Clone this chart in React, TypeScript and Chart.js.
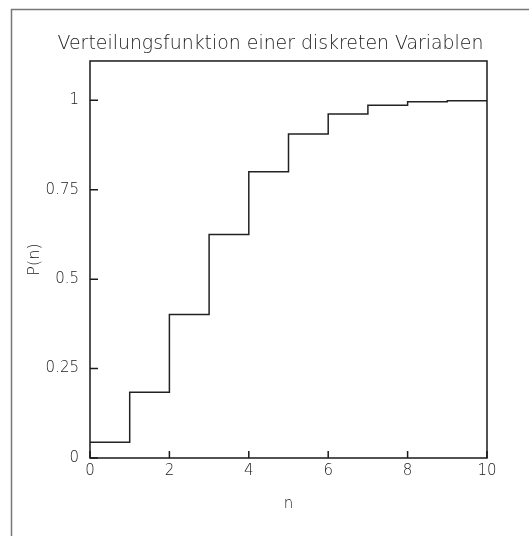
import React, { useEffect, useRef } from "react";
import { Chart, registerables } from "chart.js";

Chart.register(...registerables);

const nValues = [0, 1, 2, 3, 4, 5, 6, 7, 8, 9, 10];
const cumulativeP = [0.044, 0.184, 0.401, 0.625, 0.8, 0.906, 0.962, 0.986, 0.996, 0.999, 0.999];
const xTickValues = [0, 2, 4, 6, 8, 10];
const yTickValues = [0, 0.25, 0.5, 0.75, 1];
const chartTitle = "Verteilungsfunktion einer diskreten Variablen";
const xAxisLabel = "n";
const yAxisLabel = "P(n)";

const FONT = "'DejaVu Sans', sans-serif";
const INK = "#1a1a1a";

const framePlugin = {
  id: "framePlugin",
  beforeDraw(chart: any) {
    const { ctx } = chart;
    ctx.save();
    ctx.strokeStyle = "#777";
    ctx.lineWidth = 1.5;
    ctx.strokeRect(11.5, 9.5, 700, 700);
    ctx.restore();
  },
  afterDraw(chart: any) {
    const { ctx, chartArea, scales } = chart;
    const { left, right, top, bottom } = chartArea;
    ctx.save();
    ctx.strokeStyle = INK;
    ctx.lineWidth = 1.5;
    ctx.strokeRect(left, top, right - left, bottom - top);
    ctx.beginPath();
    for (const v of xTickValues) {
      const px = scales.x.getPixelForValue(v);
      ctx.moveTo(px, bottom);
      ctx.lineTo(px, bottom - 7);
    }
    for (const v of yTickValues) {
      const py = scales.y.getPixelForValue(v);
      ctx.moveTo(left, py);
      ctx.lineTo(left + 8, py);
    }
    ctx.stroke();
    ctx.restore();
  },
};

export default function App() {
  const canvasRef = useRef<HTMLCanvasElement | null>(null);

  useEffect(() => {
    const canvas = canvasRef.current;
    if (!canvas) return;
    const points = nValues.map((n, i) => ({ x: n, y: cumulativeP[i] }));
    const chart = new Chart(canvas, {
      type: "line",
      data: {
        datasets: [
          {
            data: points,
            stepped: "before",
            borderColor: "#222",
            borderWidth: 1.5,
            pointRadius: 0,
            fill: false,
          },
        ],
      },
      options: {
        animation: false,
        responsive: false,
        maintainAspectRatio: false,
        layout: { padding: { left: 12, right: 0, top: 0, bottom: 0 } },
        plugins: {
          legend: { display: false },
          tooltip: { enabled: false },
          title: {
            display: true,
            text: chartTitle,
            color: INK,
            font: { family: FONT, size: 18.9, weight: "200", lineHeight: 1.2 },
            padding: { top: 33, bottom: 5.3 },
          },
        },
        scales: {
          x: {
            type: "linear",
            min: 0,
            max: 10,
            afterBuildTicks: (scale: any) => {
              scale.ticks = xTickValues.map((v) => ({ value: v }));
            },
            afterFit: (scale: any) => {
              scale.height = 78;
            },
            grid: { display: false, drawTicks: false },
            border: { display: false },
            ticks: {
              color: INK,
              font: { family: FONT, size: 15, weight: "200" },
              padding: 4,
              maxRotation: 0,
              callback: (v: any) => String(v),
            },
            title: {
              display: true,
              text: xAxisLabel,
              color: INK,
              font: { family: FONT, size: 15, weight: "200", lineHeight: 1.2 },
              padding: { top: 0, bottom: 23 },
            },
          },
          y: {
            type: "linear",
            position: "left",
            min: 0,
            max: 1.11,
            afterBuildTicks: (scale: any) => {
              scale.ticks = yTickValues.map((v) => ({ value: v }));
            },
            afterFit: (scale: any) => {
              scale.width = 78;
            },
            grid: { display: false, drawTicks: false },
            border: { display: false },
            ticks: {
              color: INK,
              font: { family: FONT, size: 15, weight: "200" },
              padding: 11,
              callback: (v: any) => String(v),
            },
            title: {
              display: true,
              text: yAxisLabel,
              color: INK,
              font: { family: FONT, size: 16, weight: "200", lineHeight: 1.2 },
              padding: { top: 13, bottom: 0 },
            },
          },
          yRight: {
            type: "linear",
            position: "right",
            min: 0,
            max: 1.11,
            afterFit: (scale: any) => {
              scale.width = 42;
            },
            grid: { display: false, drawTicks: false },
            border: { display: false },
            ticks: { display: false },
          },
        },
      },
      plugins: [framePlugin],
    });
    return () => chart.destroy();
  }, []);

  return (
    <div style={{ position: "fixed", left: 0, top: 0, width: 529, height: 536, background: "#fff" }}>
      <canvas ref={canvasRef} width={529} height={536} style={{ display: "block", width: 529, height: 536 }} />
    </div>
  );
}
